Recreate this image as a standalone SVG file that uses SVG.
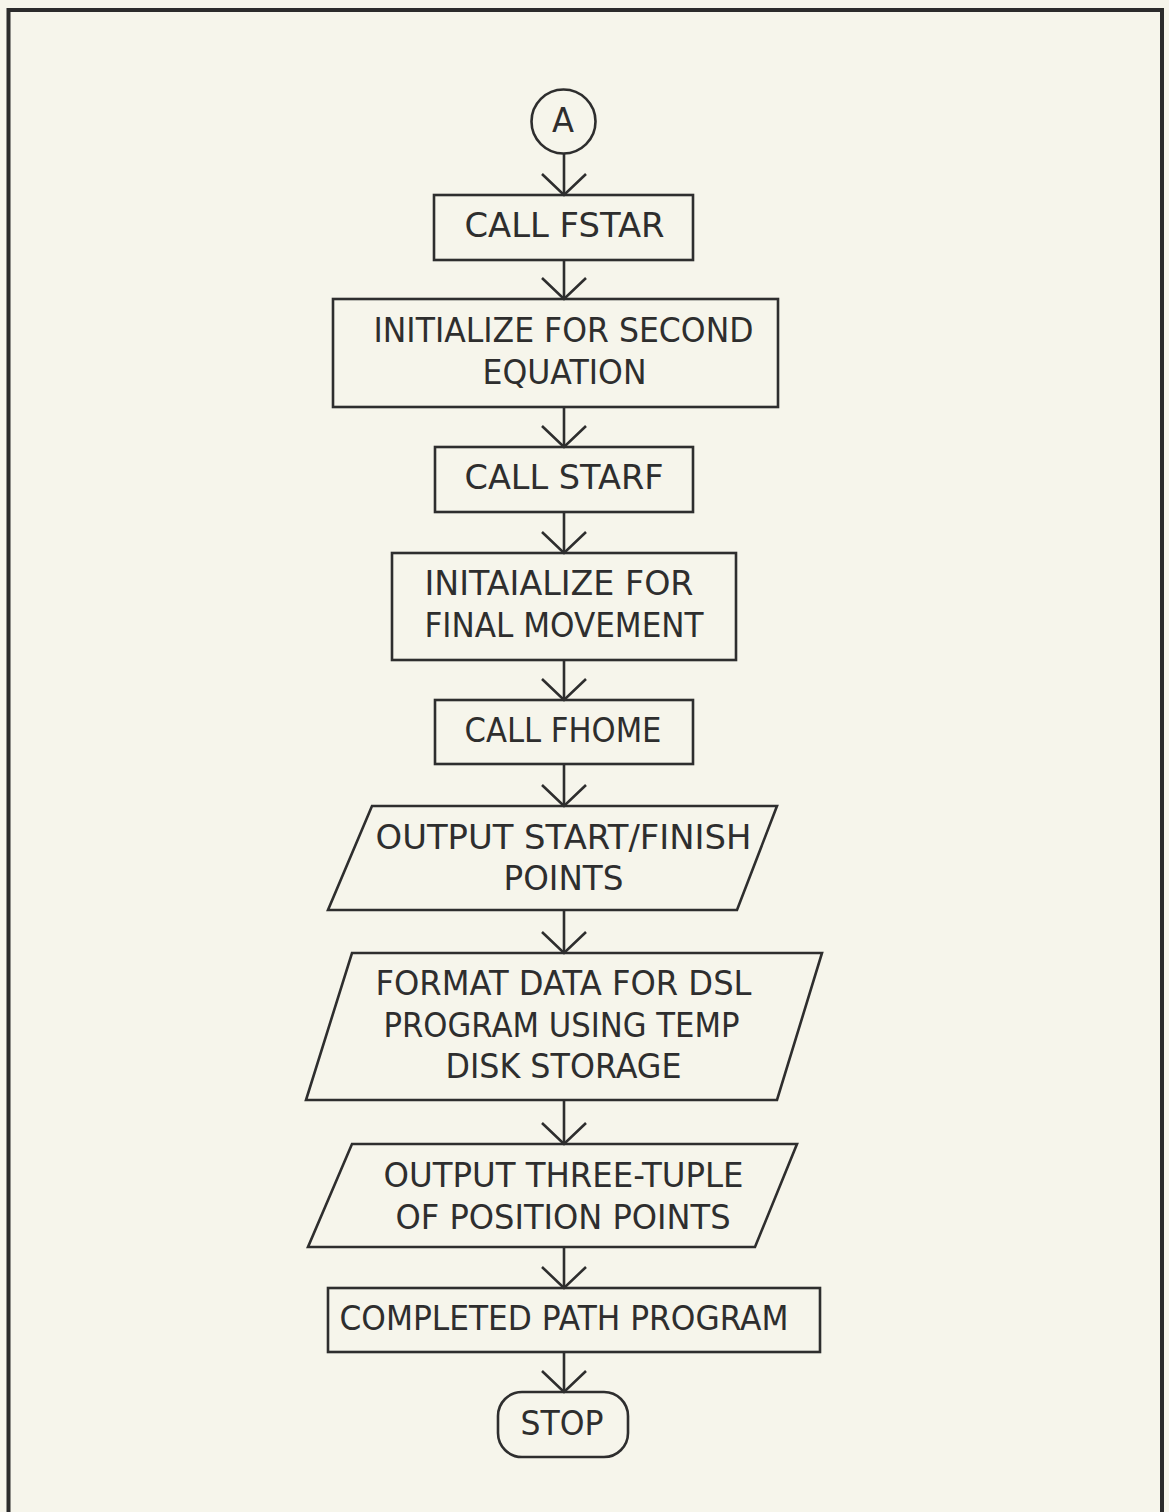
<svg xmlns="http://www.w3.org/2000/svg" width="1169" height="1512" viewBox="0 0 1169 1512">
<defs>
<style>
.shape{fill:none;stroke:#2e2e2e;stroke-width:2.6;stroke-linejoin:miter}
.conn{fill:none;stroke:#2e2e2e;stroke-width:2.6}
.t{font-family:"DejaVu Sans","Liberation Sans",sans-serif;font-size:34px;fill:#2e2e2e;lengthAdjust:spacingAndGlyphs}
</style>
<marker id="arr" markerUnits="userSpaceOnUse" markerWidth="60" markerHeight="60" refX="0" refY="0" orient="auto" overflow="visible" viewBox="-30 -30 60 60">
<path d="M-21,-22 L0,0 L-21,22" fill="none" stroke="#2e2e2e" stroke-width="2.6"/>
</marker>
</defs>
<rect x="0" y="0" width="1169" height="1512" fill="#f6f5eb"/>
<path d="M8.5,1512 V10 H1162 V1512" fill="none" stroke="#2b2b2b" stroke-width="4"/>

<g id="connectors">
<path class="conn" d="M564,153 V195" marker-end="url(#arr)"/>
<path class="conn" d="M564,260 V299" marker-end="url(#arr)"/>
<path class="conn" d="M564,407 V447" marker-end="url(#arr)"/>
<path class="conn" d="M564,512 V553" marker-end="url(#arr)"/>
<path class="conn" d="M564,660 V700" marker-end="url(#arr)"/>
<path class="conn" d="M564,764 V806" marker-end="url(#arr)"/>
<path class="conn" d="M564,910 V953" marker-end="url(#arr)"/>
<path class="conn" d="M564,1100 V1144" marker-end="url(#arr)"/>
<path class="conn" d="M564,1247 V1288" marker-end="url(#arr)"/>
<path class="conn" d="M564,1352 V1392" marker-end="url(#arr)"/>
</g>

<g id="nodeA">
<circle class="shape" cx="563.5" cy="121.5" r="32"/>
<text class="t" x="552" y="132" textLength="22" lengthAdjust="spacingAndGlyphs">A</text>
</g>

<g id="callFstar">
<rect class="shape" x="434" y="195" width="259" height="65"/>
<text class="t" x="464.5" y="237" textLength="200" lengthAdjust="spacingAndGlyphs">CALL FSTAR</text>
</g>

<g id="initSecond">
<rect class="shape" x="333" y="299" width="445" height="108"/>
<text class="t" x="373.5" y="342" textLength="380" lengthAdjust="spacingAndGlyphs">INITIALIZE FOR SECOND</text>
<text class="t" x="482.5" y="384" textLength="164" lengthAdjust="spacingAndGlyphs">EQUATION</text>
</g>

<g id="callStarf">
<rect class="shape" x="435" y="447" width="258" height="65"/>
<text class="t" x="464.5" y="489" textLength="199" lengthAdjust="spacingAndGlyphs">CALL STARF</text>
</g>

<g id="initFinal">
<rect class="shape" x="392" y="553" width="344" height="107"/>
<text class="t" x="424.5" y="595" textLength="269" lengthAdjust="spacingAndGlyphs">INITAIALIZE FOR</text>
<text class="t" x="424.5" y="637" textLength="279" lengthAdjust="spacingAndGlyphs">FINAL MOVEMENT</text>
</g>

<g id="callFhome">
<rect class="shape" x="435" y="700" width="258" height="64"/>
<text class="t" x="464.5" y="742" textLength="197" lengthAdjust="spacingAndGlyphs">CALL FHOME</text>
</g>

<g id="outStartFinish">
<polygon class="shape" points="372,806 777,806 737,910 328,910"/>
<text class="t" x="375.5" y="849" textLength="376" lengthAdjust="spacingAndGlyphs">OUTPUT START/FINISH</text>
<text class="t" x="503.5" y="890" textLength="120" lengthAdjust="spacingAndGlyphs">POINTS</text>
</g>

<g id="formatData">
<polygon class="shape" points="352,953 822,953 777,1100 306,1100"/>
<text class="t" x="375.5" y="995" textLength="376" lengthAdjust="spacingAndGlyphs">FORMAT DATA FOR DSL</text>
<text class="t" x="383.5" y="1037" textLength="356" lengthAdjust="spacingAndGlyphs">PROGRAM USING TEMP</text>
<text class="t" x="445.5" y="1078" textLength="236" lengthAdjust="spacingAndGlyphs">DISK STORAGE</text>
</g>

<g id="outThreeTuple">
<polygon class="shape" points="352,1144 797,1144 755,1247 308,1247"/>
<text class="t" x="383.5" y="1187" textLength="360" lengthAdjust="spacingAndGlyphs">OUTPUT THREE-TUPLE</text>
<text class="t" x="395.5" y="1229" textLength="335" lengthAdjust="spacingAndGlyphs">OF POSITION POINTS</text>
</g>

<g id="completed">
<rect class="shape" x="328" y="1288" width="492" height="64"/>
<text class="t" x="339.5" y="1330" textLength="449" lengthAdjust="spacingAndGlyphs">COMPLETED PATH PROGRAM</text>
</g>

<g id="stop">
<rect class="shape" x="498" y="1392" width="130" height="65" rx="24" ry="24"/>
<text class="t" x="520.5" y="1435" textLength="83" lengthAdjust="spacingAndGlyphs">STOP</text>
</g>
</svg>
